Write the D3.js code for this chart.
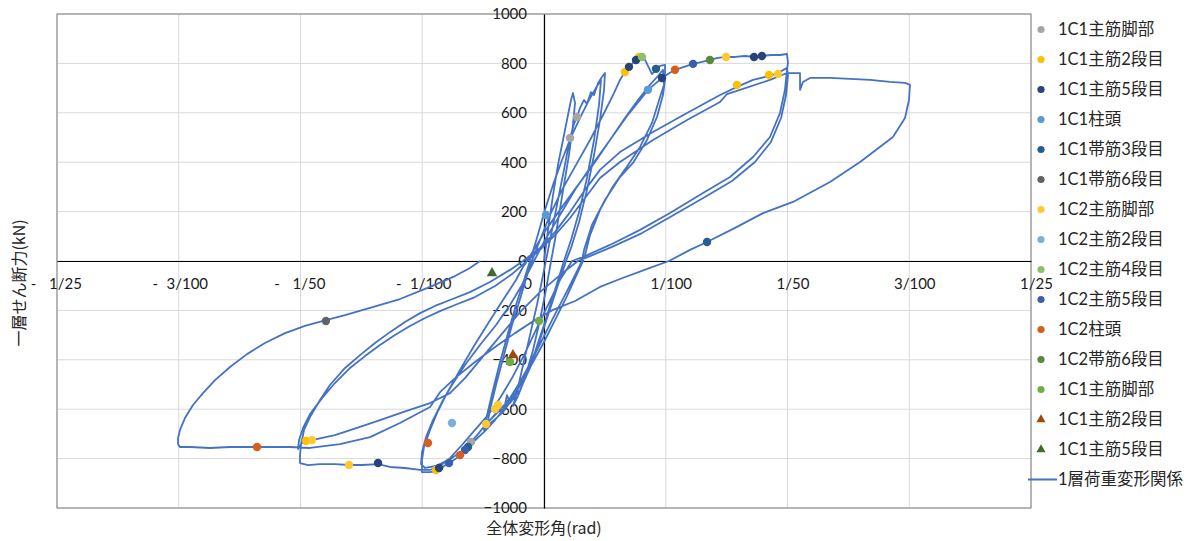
<!DOCTYPE html>
<html><head><meta charset="utf-8">
<script src="https://cdn.jsdelivr.net/npm/d3@7"></script>
<style>body{margin:0;background:#fff;}svg{display:block;}</style>
</head><body>
<svg id="chart" width="1204" height="541"></svg>
<script>
// ---------- data ----------
const xTicks = [-0.04, -0.03, -0.02, -0.01, 0, 0.01, 0.02, 0.03, 0.04];
const xTickLabels = ["1/25", "3/100", "1/50", "1/100", "0", "1/100", "1/50", "3/100", "1/25"];
const yTicks = [-1000, -800, -600, -400, -200, 0, 200, 400, 600, 800, 1000];

// load-deformation curve: [drift angle (rad), storey shear (kN)]
const loadDeformation = [
[0,0],[0.00033,126],[0.00074,267],[0.00115,389],[0.00156,490],[0.00197,591],[0.00222,652],[0.00238,680],
[0.00255,640],[0.00238,551],[0.00205,429],[0.00164,308],[0.00123,186],[0.0009,85],[0.00058,0],[0.00016,-117],[-0.00033,-239],[-0.0009,-360],[-0.00156,-474],[-0.00214,-547],[-0.00255,-587],
[-0.00222,-531],[-0.00172,-421],[-0.00115,-300],[-0.00058,-178],[-0.00008,-57],[0.00025,24],[0.00074,146],[0.00123,267],[0.00172,389],[0.00214,498],[0.00246,555],[0.00271,583],[0.00296,620],[0.00329,652],[0.00353,636],[0.00386,684],[0.00411,672],[0.00444,721],[0.00476,745],[0.00501,761],
[0.00493,693],[0.0046,571],[0.00411,429],[0.00353,288],[0.00288,158],[0.00222,53],[0.00181,0],[0.00115,-97],[0.00041,-207],[-0.00033,-320],[-0.00115,-433],[-0.00197,-522],[-0.00279,-575],[-0.00304,-543],[-0.00329,-603],[-0.00386,-612],[-0.00444,-644],[-0.00493,-684],
[-0.00468,-624],[-0.00419,-522],[-0.00361,-409],[-0.00296,-292],[-0.0023,-178],[-0.00164,-77],[-0.00115,0],[-0.00058,93],[0.00008,207],[0.00074,308],[0.00148,409],[0.00222,502],[0.00296,579],[0.0037,652],[0.00427,701],[0.00468,733],
[0.00452,632],[0.00411,490],[0.00353,336],[0.00288,198],[0.00222,85],[0.00164,0],[0.0009,-117],[0.00008,-247],[-0.00074,-369],[-0.00164,-474],[-0.00255,-555],[-0.00337,-612],[-0.00411,-644],[-0.00468,-668],
[-0.00444,-603],[-0.00394,-502],[-0.00329,-381],[-0.00263,-259],[-0.00189,-142],[-0.00131,-45],[-0.00099,0],[-0.00033,85],[0.00049,186],[0.00148,288],[0.00263,389],[0.00378,490],[0.00485,591],[0.00575,680],[0.00624,733],[0.00665,765],[0.00698,786],[0.00739,806],[0.0078,826],[0.00805,830],[0.0083,814],[0.00862,782],[0.00887,757],[0.0092,774],[0.00953,790],[0.00994,794],
[0.00994,733],[0.00977,672],[0.00928,583],[0.00846,490],[0.00731,397],[0.00624,340],[0.00501,247],[0.00394,146],[0.00329,45],[0.00312,0],[0.00255,-57],[0.00172,-138],[0.00074,-231],[-0.00016,-320],[-0.00107,-409],[-0.00197,-490],[-0.00279,-555],[-0.00361,-603],[-0.00427,-636],[-0.00476,-660],[-0.00542,-701],[-0.006,-733],[-0.00632,-753],[-0.00665,-774],[-0.00706,-794],[-0.00764,-814],[-0.00821,-830],[-0.00879,-851],[-0.00936,-855],[-0.01002,-855],
[-0.01002,-806],[-0.00986,-753],[-0.00936,-684],[-0.00879,-616],[-0.00797,-535],[-0.0069,-441],[-0.00575,-344],[-0.00452,-247],[-0.00337,-158],[-0.0023,-77],[-0.00164,-16],[-0.0014,0],[-0.00074,53],[0.00016,126],[0.00131,207],[0.00263,296],[0.00402,389],[0.00542,490],[0.00665,579],[0.00772,652],[0.0087,713],[0.00936,749],[0.00977,774],
[0.00986,713],[0.00953,664],[0.00887,559],[0.00789,462],[0.00674,377],[0.00559,296],[0.0046,207],[0.00378,105],[0.00337,24],[0.0032,0],[0.00263,-61],[0.00181,-150],[0.0009,-239],[0,-328],[-0.0009,-409],[-0.00181,-490],[-0.00263,-555],[-0.00337,-603],[-0.00402,-644],[-0.00485,-689],[-0.00608,-745],[-0.00756,-798],[-0.00887,-830],[-0.00977,-838],[-0.0101,-822],
[-0.01002,-774],[-0.00969,-713],[-0.00912,-644],[-0.00838,-571],[-0.00756,-502],[-0.00649,-421],[-0.00526,-340],[-0.00394,-259],[-0.00279,-178],[-0.00181,-97],[-0.00082,0],[0.00008,85],[0.00131,186],[0.00255,288],[0.00394,389],[0.00542,490],[0.00682,587],[0.00789,652],[0.00854,693],[0.00912,717],[0.00969,741],[0.01018,757],[0.01076,774],[0.0115,786],[0.01224,798],[0.01298,806],[0.01363,814],[0.01429,822],[0.01495,826],[0.01569,826],[0.01651,830],[0.01725,826],[0.0179,830],[0.01864,834],[0.01938,834],[0.01996,838],[0.02004,802],[0.01996,774],
[0.01979,693],[0.01938,599],[0.01856,502],[0.01717,421],[0.01528,340],[0.01306,275],[0.01035,194],[0.00789,126],[0.00542,65],[0.00337,20],[0.0023,0],[0.00131,-77],[0.00033,-178],[-0.00066,-279],[-0.00164,-381],[-0.00263,-474],[-0.00361,-555],[-0.0046,-624],[-0.00567,-684],[-0.00674,-745],[-0.00772,-798],[-0.00854,-830],[-0.00936,-846],[-0.01018,-846],[-0.01142,-838],[-0.01265,-834],[-0.01363,-822],[-0.01495,-826],[-0.01602,-826],[-0.01717,-822],[-0.0184,-822],[-0.01938,-826],[-0.02004,-818],
[-0.02004,-786],[-0.01996,-745],[-0.01971,-684],[-0.01922,-632],[-0.0184,-563],[-0.01758,-502],[-0.01634,-433],[-0.01511,-381],[-0.01388,-332],[-0.01265,-288],[-0.01142,-247],[-0.01018,-211],[-0.00895,-182],[-0.00772,-158],[-0.00608,-126],[-0.00444,-85],[-0.00279,-36],[-0.00172,0],[-0.00033,53],[0.0009,117],[0.00214,198],[0.00337,288],[0.0046,369],[0.00624,441],[0.00895,522],[0.01175,599],[0.01446,672],[0.01585,705],[0.01717,733],[0.01848,749],[0.01922,761],[0.01996,782],
[0.02004,749],[0.01988,672],[0.01947,579],[0.01864,482],[0.01733,401],[0.01544,324],[0.01322,259],[0.01051,182],[0.00805,113],[0.00559,57],[0.00378,20],[0.00279,0],[0.00131,-57],[-0.00033,-126],[-0.00197,-207],[-0.00361,-304],[-0.00526,-401],[-0.00649,-474],[-0.00772,-535],[-0.00936,-575],[-0.01158,-612],[-0.01347,-644],[-0.01536,-676],[-0.01717,-705],[-0.01906,-725],[-0.01988,-737],[-0.0202,-761],
[-0.02012,-725],[-0.01979,-676],[-0.01922,-620],[-0.01823,-555],[-0.01717,-494],[-0.01593,-433],[-0.0147,-385],[-0.01347,-340],[-0.01224,-300],[-0.01101,-263],[-0.00977,-231],[-0.00854,-203],[-0.00731,-178],[-0.00567,-146],[-0.00402,-101],[-0.00263,-53],[-0.0014,0],[-0.00033,45],[0.0009,105],[0.00214,174],[0.00337,255],[0.0046,336],[0.00624,401],[0.00895,490],[0.01175,571],[0.01446,644],[0.01503,676],[0.0161,693],[0.01856,733],[0.01996,761],[0.02103,761],[0.02103,693],[0.02127,725],[0.02185,741],[0.02349,741],[0.02513,737],[0.02678,733],[0.02842,725],[0.02965,721],[0.03006,713],
[0.02998,652],[0.02965,579],[0.02866,502],[0.02596,401],[0.02349,320],[0.02045,239],[0.01799,194],[0.01569,134],[0.01339,77],[0.01199,45],[0.01027,0],[0.0087,-28],[0.00624,-73],[0.0046,-105],[0.00255,-162],[0.00074,-198],[-0.00074,-239],[-0.00238,-292],[-0.00402,-348],[-0.00567,-409],[-0.00731,-474],[-0.00854,-531],[-0.00936,-591],[-0.01183,-656],[-0.01429,-713],[-0.01676,-741],[-0.01922,-757],[-0.02086,-753],[-0.02357,-753],[-0.02579,-753],[-0.02743,-757],[-0.02908,-753],[-0.0299,-753],[-0.03006,-741],
[-0.03006,-717],[-0.0299,-684],[-0.02949,-636],[-0.02883,-583],[-0.02801,-535],[-0.02702,-482],[-0.02579,-429],[-0.02439,-377],[-0.02292,-332],[-0.02127,-292],[-0.01963,-263],[-0.01791,-239],[-0.01634,-219],[-0.01429,-190],[-0.01183,-154],[-0.00936,-105],[-0.00731,-61],[-0.00608,-28],[-0.00526,0]
];

// strain-gauge event markers: [drift angle (rad), storey shear (kN)]
const c1MainBase   = [[0.00214,498],[0.00271,583],[-0.006,-733]];
const c1Main2      = [[0.00665,765],[0.0078,826],[0.01585,713],[0.01848,753],[-0.00887,-846],[-0.01955,-729]];
const c1Main5      = [[0.00698,786],[0.00756,814],[0.00969,741],[0.01725,826],[0.0179,830],[-0.01363,-818],[-0.00862,-838]];
const c1ColTop     = [[0.00016,186],[0.00854,693]];
const c1Hoop3      = [[0.0092,778],[0.01339,77],[-0.00624,-753]];
const c1Hoop6      = [[-0.01791,-243]];
const c2MainBase   = [[0.01495,826],[0.01922,757],[-0.01906,-725],[-0.01602,-826],[-0.00476,-660],[-0.00402,-599],[-0.00378,-583]];
const c2Main2      = [[-0.00756,-656]];
const c2Main4      = [[0.00805,826]];
const c2Main5      = [[0.01224,798],[-0.0078,-818],[-0.00649,-765]];
const c2ColTop     = [[0.01076,774],[-0.02357,-753],[-0.00953,-737],[-0.0069,-786]];
const c2Hoop6      = [[0.01363,814]];
const c1MainBaseB  = [[-0.00041,-243],[-0.00279,-409]];
const c1Main2Tri   = [[-0.00255,-381]];
const c1Main5Tri   = [[-0.00427,-49]];

const markerNames  = ["1C1主筋脚部","1C1主筋2段目","1C1主筋5段目","1C1柱頭","1C1帯筋3段目","1C1帯筋6段目","1C2主筋脚部","1C2主筋2段目","1C2主筋4段目","1C2主筋5段目","1C2柱頭","1C2帯筋6段目","1C1主筋脚部","1C1主筋2段目","1C1主筋5段目"];
const markerData   = [c1MainBase,c1Main2,c1Main5,c1ColTop,c1Hoop3,c1Hoop6,c2MainBase,c2Main2,c2Main4,c2Main5,c2ColTop,c2Hoop6,c1MainBaseB,c1Main2Tri,c1Main5Tri];
const markerColors = ["#a5a5a5","#ffc000","#264478","#5b9bd5","#255e91","#636363","#ffc92e","#7cafdd","#8cc168","#3a60ad","#d55e1a","#568b39","#70ad47","#9e480e","#43682b"];
const markerShapes = ["circle","circle","circle","circle","circle","circle","circle","circle","circle","circle","circle","circle","circle","triangle","triangle"];
const lineName = "1層荷重変形関係";
const lineColor = "#4472c4";

// ---------- drawing ----------
const svg = d3.select("#chart");
const L = 57, R = 1031, T = 14, B = 508;
const x = d3.scaleLinear().domain([-0.04, 0.04]).range([L, R]);
const y = d3.scaleLinear().domain([-1000, 1000]).range([B, T]);
const numFont = "Lato, 'Noto Sans CJK JP', sans-serif";
const jpFont = "'Noto Sans CJK JP', sans-serif";

svg.append("rect").attr("width",1204).attr("height",541).attr("fill","#fff");

// gridlines
svg.append("g").selectAll("line").data(yTicks).join("line")
  .attr("x1", L).attr("x2", R).attr("y1", d => y(d)).attr("y2", d => y(d))
  .attr("stroke", "#d9d9d9").attr("stroke-width", 1);
svg.append("g").selectAll("line").data(xTicks).join("line")
  .attr("x1", d => x(d)).attr("x2", d => x(d)).attr("y1", T).attr("y2", B)
  .attr("stroke", "#d9d9d9").attr("stroke-width", 1);

// plot border
svg.append("rect").attr("x", L).attr("y", T).attr("width", R - L).attr("height", B - T)
  .attr("fill", "none").attr("stroke", "#7f7f7f").attr("stroke-width", 1);

// axis titles (drawn before tick labels)
svg.append("text").attr("x", x(0)).attr("y", 534).attr("text-anchor", "middle")
  .attr("font-family", jpFont).attr("font-size", 16).attr("fill", "#262626").text("全体変形角(rad)");
svg.append("text").attr("transform", "translate(25,283) rotate(-90)").attr("text-anchor", "middle")
  .attr("font-family", jpFont).attr("font-size", 16).attr("fill", "#262626").text("一層せん断力(kN)");

// y axis (crosses at x = 0)
const yAxis = svg.append("g").attr("transform", `translate(${x(0)},0)`)
  .call(d3.axisLeft(y).tickValues(yTicks).tickSize(0).tickPadding(17).tickFormat(d3.format("d")));
yAxis.select(".domain").attr("stroke", "#000").attr("stroke-width", 1.2);
yAxis.selectAll("text").attr("font-family", numFont).attr("font-size", 15).attr("fill", "#1a1a1a");

// x axis (crosses at y = 0)
const xAxis = svg.append("g").attr("transform", `translate(0,${y(0)})`)
  .call(d3.axisBottom(x).tickValues(xTicks).tickSize(0).tickPadding(17)
    .tickFormat((d, i) => xTickLabels[i]));
xAxis.select(".domain").attr("stroke", "#000").attr("stroke-width", 1.2);
xAxis.selectAll(".tick").each(function(d) {
  const g = d3.select(this);
  const t = g.select("text").attr("font-family", numFont).attr("font-size", 15).attr("fill", "#1a1a1a");
  if (d === 0) t.attr("x", -17);
  else if (d < 0) {
    t.attr("x", 8);
    g.append("text").attr("x", -24).attr("y", 17).attr("dy", "0.71em")
      .attr("text-anchor", "middle").attr("font-family", numFont).attr("font-size", 15)
      .attr("fill", "#1a1a1a").text("-");
  } else t.attr("x", 5);
});

// load-deformation line
svg.append("path").datum(loadDeformation)
  .attr("d", d3.line().x(d => x(d[0])).y(d => y(d[1])))
  .attr("fill", "none").attr("stroke", lineColor).attr("stroke-width", 1.8)
  .attr("stroke-linejoin", "round");

// markers
const tri = d3.symbol().type(d3.symbolTriangle).size(48);
markerData.forEach((pts, i) => {
  const g = svg.append("g");
  if (markerShapes[i] === "circle") {
    g.selectAll("circle").data(pts).join("circle")
      .attr("cx", d => x(d[0])).attr("cy", d => y(d[1])).attr("r", 4.2)
      .attr("fill", markerColors[i]);
  } else {
    g.selectAll("path").data(pts).join("path")
      .attr("d", tri).attr("transform", d => `translate(${x(d[0])},${y(d[1])})`)
      .attr("fill", markerColors[i]);
  }
});

// legend
const lg = svg.append("g");
markerNames.forEach((name, i) => {
  const cy = 29.5 + i * 30;
  if (markerShapes[i] === "circle") {
    lg.append("circle").attr("cx", 1041).attr("cy", cy).attr("r", 3.6).attr("fill", markerColors[i]);
  } else {
    lg.append("path").attr("d", d3.symbol().type(d3.symbolTriangle).size(36)())
      .attr("transform", `translate(1041,${cy})`).attr("fill", markerColors[i]);
  }
  lg.append("text").attr("x", 1058).attr("y", cy).attr("dy", "0.36em")
    .attr("font-family", numFont).attr("font-size", 16.5).attr("fill", "#262626").text(name);
});
const ly = 29.5 + markerNames.length * 30;
lg.append("line").attr("x1", 1028).attr("x2", 1057).attr("y1", ly).attr("y2", ly)
  .attr("stroke", lineColor).attr("stroke-width", 2);
lg.append("text").attr("x", 1058).attr("y", ly).attr("dy", "0.36em")
  .attr("font-family", numFont).attr("font-size", 16.5).attr("fill", "#262626").text(lineName);
</script>
</body></html>
